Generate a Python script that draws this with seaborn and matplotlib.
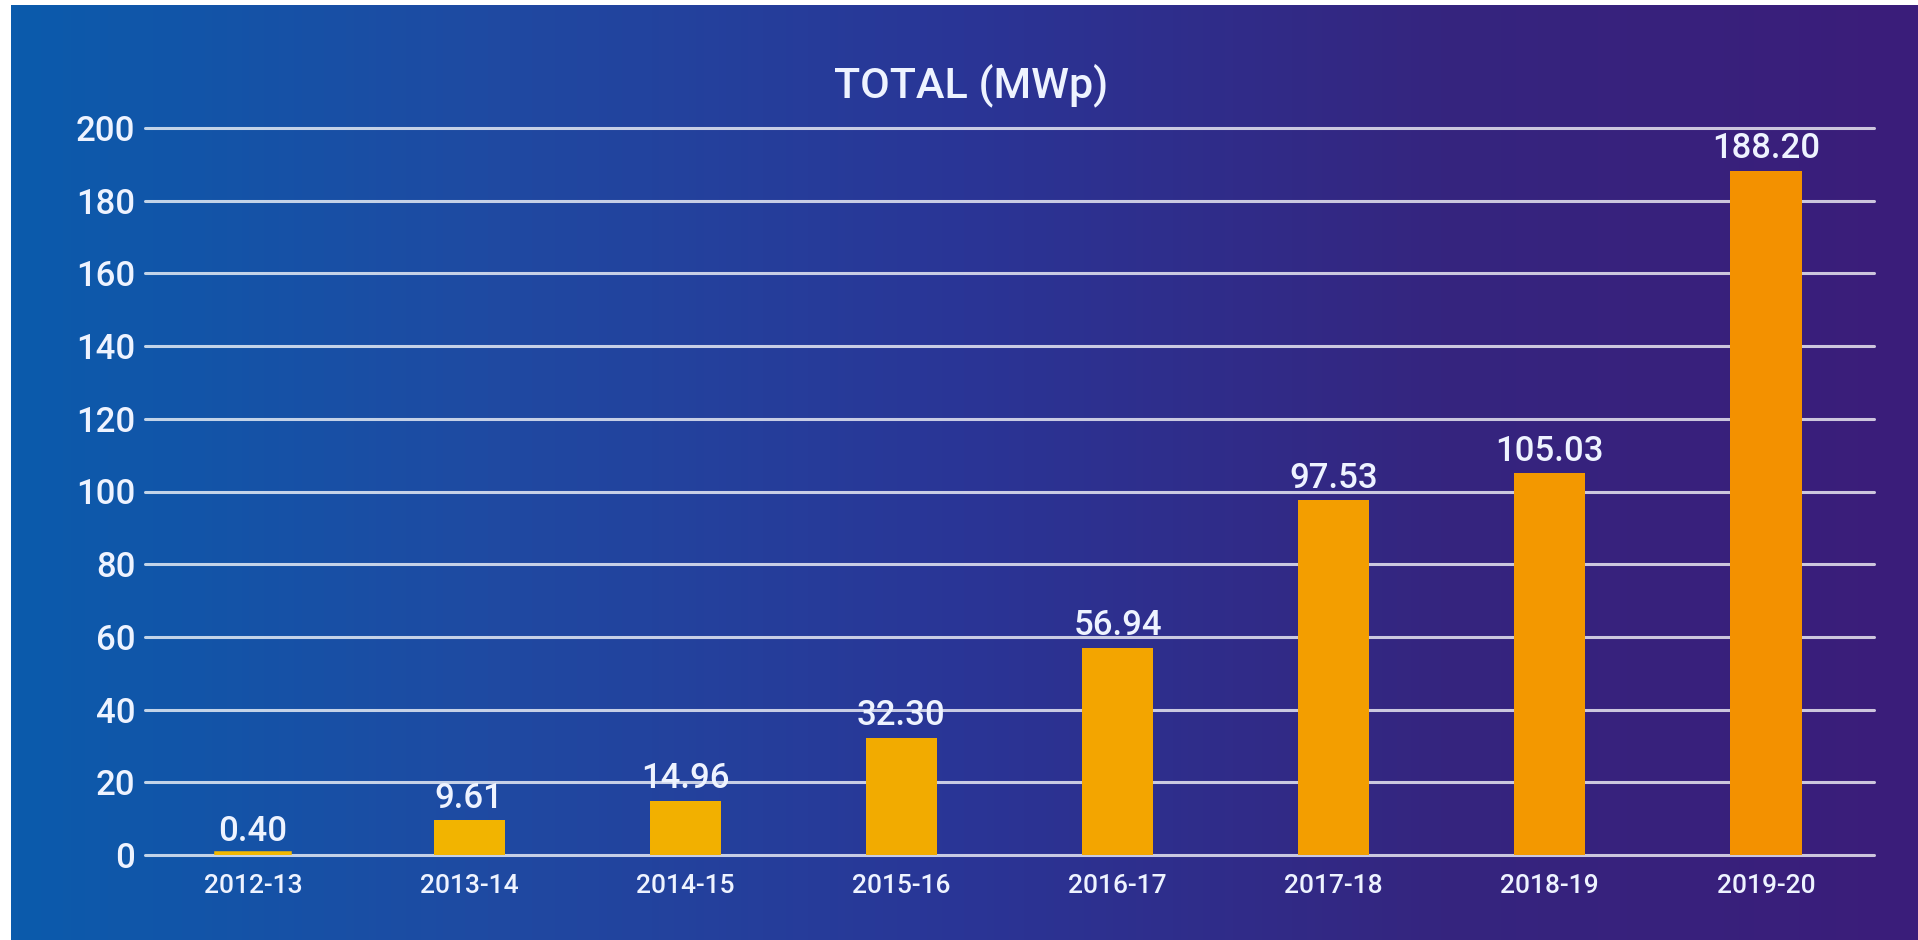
import numpy as np
import pandas as pd
import matplotlib
matplotlib.use("Agg")
import matplotlib.pyplot as plt
from matplotlib.colors import LinearSegmentedColormap
import seaborn as sns

years = ["2012-13", "2013-14", "2014-15", "2015-16", "2016-17", "2017-18", "2018-19", "2019-20"]
total_mwp = [0.40, 9.61, 14.96, 32.30, 56.94, 97.53, 105.03, 188.20]
labels = ["0.40", "9.61", "14.96", "32.30", "56.94", "97.53", "105.03", "188.20"]
bar_colors = ["#f1b800", "#f2b400", "#f2b000", "#f2ab00", "#f3a500", "#f39e00", "#f39800", "#f39100"]
y_ticks = [0, 20, 40, 60, 80, 100, 120, 140, 160, 180, 200]

data = pd.DataFrame({"Year": years, "Total": total_mwp})

sns.set_style("white")
plt.rcParams["font.family"] = ["Roboto", "DejaVu Sans"]
plt.rcParams["font.weight"] = "medium"

fig = plt.figure(figsize=(19.18, 9.4), dpi=100)
fig.patch.set_facecolor("white")

# background gradient, leaving the thin white strip at top and left
bg = fig.add_axes([11 / 1918, 0, 1 - 11 / 1918, 1 - 5 / 940])
bg_cmap = LinearSegmentedColormap.from_list("bg", ["#0b5bac", "#1f4aa2", "#2a3596", "#35257f", "#3b1d7a"])
grad = np.linspace(0, 1, 512).reshape(1, -1)
bg.imshow(grad, aspect="auto", cmap=bg_cmap, extent=[0, 1, 0, 1])
bg.set_axis_off()

ax = fig.add_axes([145 / 1918, 85 / 940, (1874 - 145) / 1918, (855 - 128) / 940])
ax.set_facecolor("none")

sns.barplot(data=data, x="Year", y="Total", hue="Year", palette=bar_colors,
            legend=False, width=0.33, saturation=1, linewidth=0, ax=ax, zorder=3)

# the tiny first bar is drawn a little thicker so it stays visible
first = ax.patches[0]
first.set_edgecolor(first.get_facecolor())
first.set_linewidth(4)

ax.set_xlim(-0.5, 7.5)
ax.set_ylim(0, 200)
ax.set_yticks(y_ticks)
ax.yaxis.grid(True, color="white", alpha=0.75, linewidth=2.2, zorder=1)
for gl in ax.get_ygridlines():
    gl.set_clip_on(False)
ax.set_axisbelow(True)
for s in ax.spines.values():
    s.set_visible(False)
ax.tick_params(axis="y", length=0, pad=7, labelsize=25, labelcolor="#eef3ff")
ax.tick_params(axis="x", length=0, pad=14, labelsize=19, labelcolor="#eef3ff")
ax.set_xlabel("")
ax.set_ylabel("")

for i, (v, t) in enumerate(zip(total_mwp, labels)):
    ax.annotate(t, (i, v), xytext=(0, 4), textcoords="offset points",
                ha="center", va="bottom", fontsize=25, color="#eef3ff", zorder=5)

fig.text(971 / 1918, 1 - 97 / 940, "TOTAL (MWp)", ha="center", va="baseline",
         fontsize=31, color="#eef3ff")

fig.savefig("out.png", dpi=100, facecolor=fig.get_facecolor())
